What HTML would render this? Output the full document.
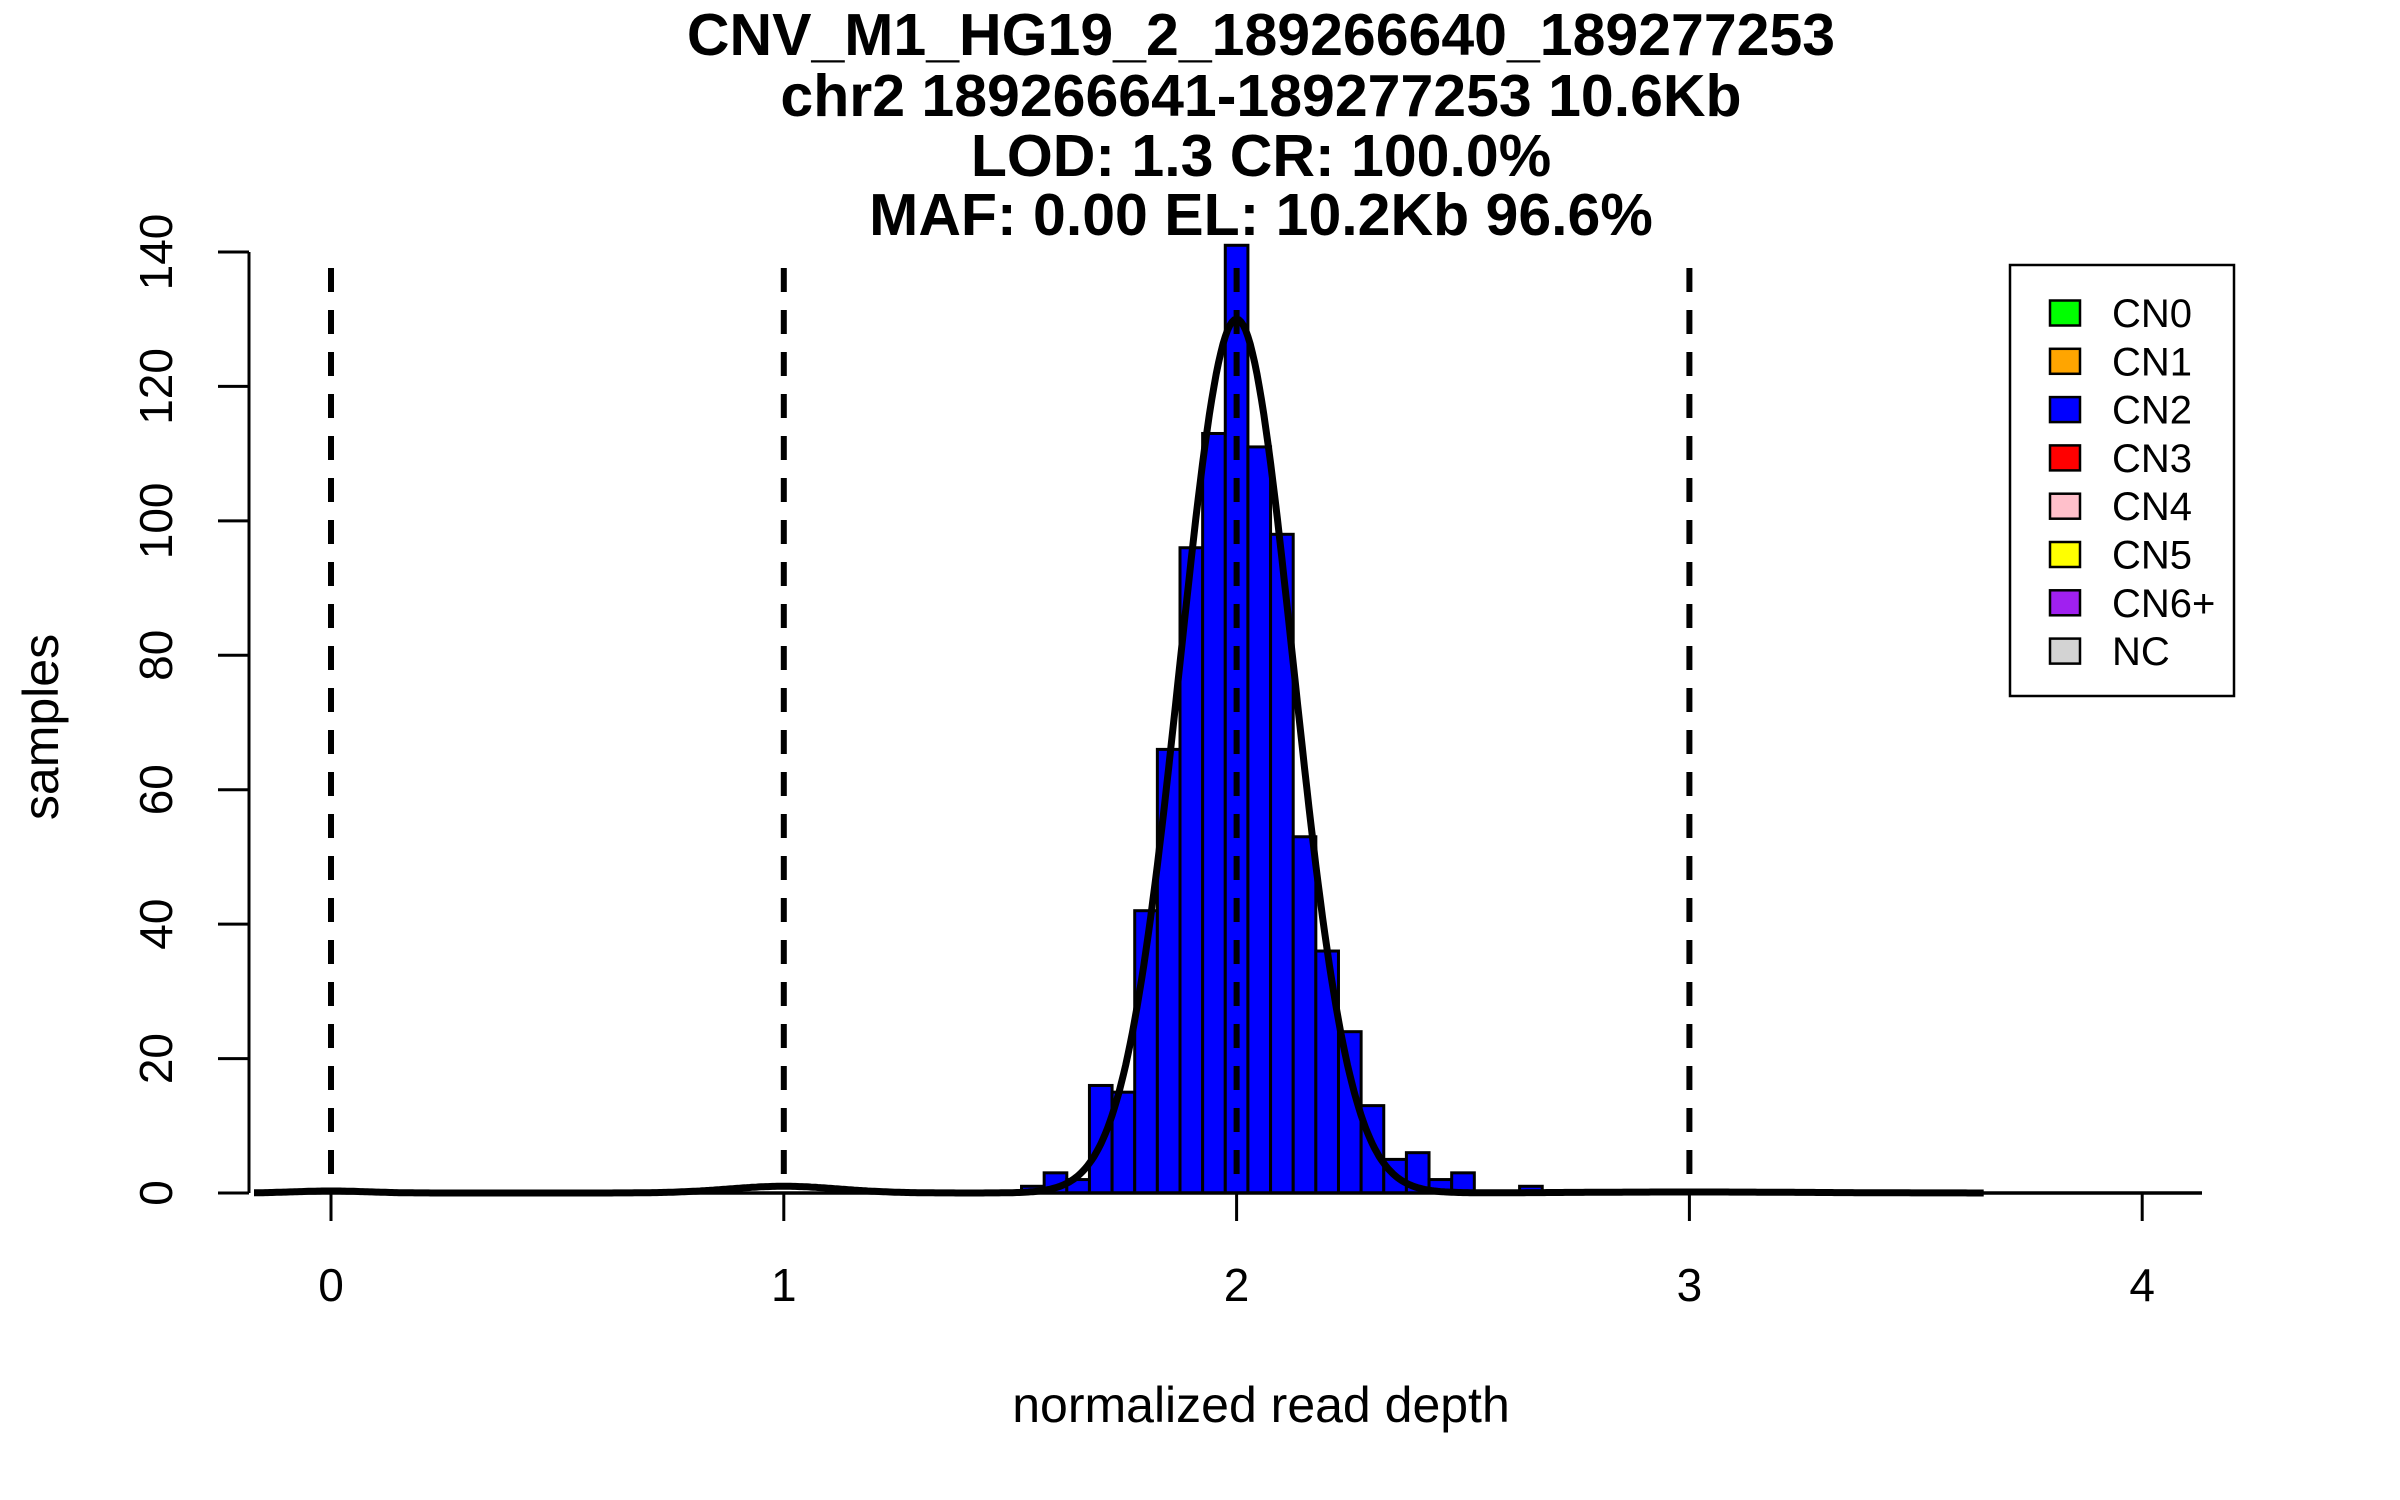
<!DOCTYPE html>
<html><head><meta charset="utf-8"><style>
html,body{margin:0;padding:0;background:#fff}
svg{display:block}
text{font-family:"Liberation Sans",sans-serif}
</style></head><body>
<svg id="chart" width="2400" height="1500" viewBox="0 0 2400 1500" xmlns="http://www.w3.org/2000/svg">
<g font-weight="bold" font-size="59" text-anchor="middle">
<text x="1261" y="55">CNV_M1_HG19_2_189266640_189277253</text>
<text x="1261" y="116">chr2 189266641-189277253 10.6Kb</text>
<text x="1261" y="176">LOD: 1.3 CR: 100.0%</text>
<text x="1261" y="235">MAF: 0.00 EL: 10.2Kb 96.6%</text>
</g>
<g id="bars"></g>
<g id="axes"></g>
<g id="vlines"></g>
<path id="curve" fill="none" stroke="#000" stroke-width="7"/>
<text x="1261" y="1422" font-size="50" text-anchor="middle">normalized read depth</text>
<text transform="translate(58,727) rotate(-90)" font-size="50" text-anchor="middle">samples</text>
<g id="legend">
<rect x="2010" y="265" width="224" height="431" fill="#fff" stroke="#000" stroke-width="2.5"/>
</g>
</svg>
<script>
const binCenters = [1.55,1.60,1.65,1.70,1.75,1.80,1.85,1.90,1.95,2.00,2.05,2.10,2.15,2.20,2.25,2.30,2.35,2.40,2.45,2.50,2.65];
const binCounts  = [1,3,2,16,15,42,66,96,113,141,111,98,53,36,24,13,5,6,2,3,1];
const binWidth = 0.05;
const xTicks = [0,1,2,3,4];
const yTicks = [0,20,40,60,80,100,120,140];
const cnLines = [0,1,2,3];
const legendLabels = ["CN0","CN1","CN2","CN3","CN4","CN5","CN6+","NC"];
const legendColors = ["#00ff00","#ffa500","#0000ff","#ff0000","#ffc0cb","#ffff00","#a020f0","#d3d3d3"];
const compMeans = [0,1,2,3];
const compAmps = [0.3,1,130,0.15];
const compSds = [0.08,0.12,0.125,0.25];

const NS="http://www.w3.org/2000/svg";
const X=v=>331+v*452.8;
const Y=v=>1193-v*(941/140);
function mk(tag,attrs,parent){const e=document.createElementNS(NS,tag);for(const k in attrs)e.setAttribute(k,attrs[k]);parent.appendChild(e);return e;}

const bars=document.getElementById('bars');
binCenters.forEach((c,i)=>{
  const x0=X(c-binWidth/2),x1=X(c+binWidth/2);
  const r=mk('rect',{x:x0,y:Y(binCounts[i]),width:x1-x0,height:Y(0)-Y(binCounts[i]),fill:'#0000ff',stroke:'#000','stroke-width':3},bars);
  
  
});

const axes=document.getElementById('axes');
let l=mk('line',{x1:258,y1:Y(0),x2:2202,y2:Y(0),stroke:'#000','stroke-width':3.5},axes);

l=mk('line',{x1:249,y1:Y(0),x2:249,y2:Y(140),stroke:'#000','stroke-width':3},axes);

xTicks.forEach(t=>{
  const tk=mk('line',{x1:X(t),y1:Y(0),x2:X(t),y2:Y(0)+28,stroke:'#000','stroke-width':3},axes);
  
  const tx=mk('text',{x:X(t),y:1301,'font-size':46,'text-anchor':'middle'},axes);
  tx.textContent=t;
  
});
yTicks.forEach(t=>{
  const tk=mk('line',{x1:218,y1:Y(t),x2:249,y2:Y(t),stroke:'#000','stroke-width':3},axes);
  
  const tx=mk('text',{transform:`translate(172,${Y(t)}) rotate(-90)`,'font-size':46,'text-anchor':'middle'},axes);
  tx.textContent=t;
  
});

const vl=document.getElementById('vlines');
cnLines.forEach(v=>{
  const d=mk('line',{x1:X(v),y1:268,x2:X(v),y2:Y(0),stroke:'#000','stroke-width':6,'stroke-dasharray':'24 18'},vl);
  
});

let pts=[];
for(let x=-0.17;x<=3.65;x+=0.005){
  let y=0;compMeans.forEach((m,i)=>{y+=compAmps[i]*Math.exp(-0.5*((x-m)/compSds[i])**2);});
  pts.push((pts.length?'L':'M')+X(x).toFixed(1)+','+Y(y).toFixed(1));
}
document.getElementById('curve').setAttribute('d',pts.join(''));

const lg=document.getElementById('legend');
legendLabels.forEach((lab,i)=>{
  const cy=313+i*48.3;
  const s=mk('rect',{x:2050,y:cy-12.5,width:30,height:25,fill:legendColors[i],stroke:'#000','stroke-width':2.5},lg);
  
  
  const t=mk('text',{x:2112,y:cy+14,'font-size':40},lg);
  t.textContent=lab;
  
  
});
</script>
</body></html>
